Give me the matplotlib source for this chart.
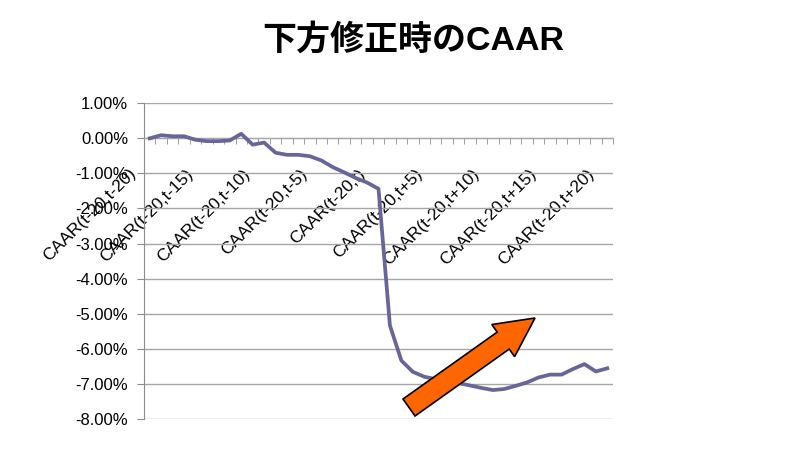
import matplotlib
matplotlib.use("Agg")
import matplotlib.pyplot as plt
import matplotlib.patches as mpatches
import matplotlib.transforms as mtransforms
import numpy as np

title = "下方修正時のCAAR"
tick_labels = ["CAAR(t-20,t-20)", "CAAR(t-20,t-15)", "CAAR(t-20,t-10)", "CAAR(t-20,t-5)",
               "CAAR(t-20,t)", "CAAR(t-20,t+5)", "CAAR(t-20,t+10)", "CAAR(t-20,t+15)",
               "CAAR(t-20,t+20)"]
caar = [0.00, 0.09, 0.06, 0.06, -0.04, -0.08, -0.08, -0.06, 0.13, -0.18, -0.12,
        -0.41, -0.47, -0.47, -0.51, -0.63, -0.82, -0.97, -1.13, -1.26, -1.44,
        -5.34, -6.34, -6.66, -6.80, -6.87, -6.90, -6.98, -7.05, -7.12, -7.18,
        -7.15, -7.06, -6.96, -6.82, -6.74, -6.74, -6.58, -6.44, -6.65, -6.56]
y_ticks = [1, 0, -1, -2, -3, -4, -5, -6, -7, -8]

plt.rcParams['font.family'] = ['Liberation Sans', 'Noto Sans CJK JP', 'DejaVu Sans']

W, H = 793, 449
fig = plt.figure(figsize=(W / 100, H / 100), dpi=100)
fig.patch.set_facecolor('white')
ax = fig.add_axes([144 / W, (H - 418.8) / H, 469 / W, (418.8 - 103.3) / H])

x = np.arange(len(caar))
ax.plot(x, caar, color='#666699', lw=2.7, zorder=3, solid_joinstyle='round')

ax.set_xlim(-0.5, len(caar) - 0.5)
ax.set_ylim(min(y_ticks), max(y_ticks))
ax.set_yticks(y_ticks)
ax.set_yticklabels([f"{v:.2f}%" for v in y_ticks], fontsize=12)
ax.grid(axis='y', color='#a6a6a6', lw=1.0, zorder=1)
ax.tick_params(axis='y', direction='out', length=5, color='#8c8c8c', pad=6.5)

for s in ['top', 'right']:
    ax.spines[s].set_visible(False)
ax.spines['left'].set_color('#8c8c8c')
ax.spines['bottom'].set_position(('data', 0))
ax.spines['bottom'].set_color('#a6a6a6')

major = np.arange(0, len(caar), 5)
ax.set_xticks(major)
ax.set_xticklabels(tick_labels, fontsize=12.5)
ax.set_xticks(np.arange(-0.5, len(caar), 1), minor=True)
ax.tick_params(axis='x', which='major', length=0, pad=0)
ax.tick_params(axis='x', which='minor', direction='out', length=4, color='#8c8c8c')
offset = mtransforms.ScaledTranslation(-0.16, -0.33, fig.dpi_scale_trans)
for lab in ax.get_xticklabels():
    lab.set_rotation(45)
    lab.set_rotation_mode('anchor')
    lab.set_ha('right')
    lab.set_va('center')
    lab.set_transform(lab.get_transform() + offset)

fig.text(413 / W, (H - 40) / H, title, ha='center', va='center', fontsize=24.5,
         fontweight='bold')

arrow = mpatches.FancyArrow(409, H - 407.5, 126, 89.5, width=20.8, head_width=39.4,
                            head_length=39, length_includes_head=True,
                            fc='#FF6600', ec='black', lw=1.2,
                            transform=mtransforms.IdentityTransform(), zorder=10)
fig.add_artist(arrow)

fig.savefig("out.png", dpi=100)
